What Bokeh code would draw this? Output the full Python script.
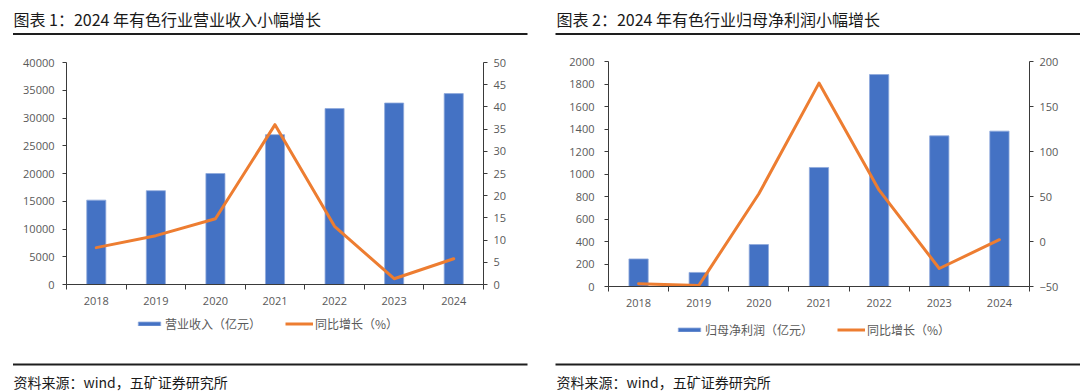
from bokeh.plotting import figure
from bokeh.models import (Range1d, LinearAxis, FixedTicker, SingleIntervalTicker, Label,
                          BoxAnnotation, Legend, LegendItem, ColumnDataSource)
from bokeh.layouts import row, column
from bokeh.embed import file_html
from bokeh.resources import INLINE

# ---------------- data ----------------
years = ["2018", "2019", "2020", "2021", "2022", "2023", "2024"]
revenue = [15200, 16900, 20000, 27000, 31700, 32700, 34400]          # 营业收入（亿元）
revenue_yoy = [8.3, 11.0, 14.8, 36.0, 13.1, 1.3, 5.8]               # 同比增长（%）
profit = [245, 125, 373, 1058, 1884, 1339, 1381]                     # 归母净利润（亿元）
profit_yoy = [-47, -49, 53, 176, 57, -30, 2]                         # 同比增长（%）

title1 = "图表 1：2024 年有色行业营业收入小幅增长"
title2 = "图表 2：2024 年有色行业归母净利润小幅增长"
source_text = "资料来源：wind，五矿证券研究所"
bar_label1 = "营业收入（亿元）"
bar_label2 = "归母净利润（亿元）"
line_label = "同比增长（%）"

BLUE = "#4472C4"
ORANGE = "#ED7D31"
GRAY = "#595959"
AXIS = "#3a3a3a"
RULE = "#1e1e1e"
CJK = "Noto Sans CJK SC"
NUM = "Open Sans"

W = 540
HEAD_H = 52
MAIN_H = 262
FOOT_H = 78
NAN = float("nan")


def blank(height):
    f = figure(width=W, height=height, output_backend="svg", toolbar_location=None,
               x_range=Range1d(0, W), y_range=Range1d(height, 0),
               min_border=0, min_border_left=0, min_border_right=0,
               min_border_top=0, min_border_bottom=0,
               x_axis_location=None, y_axis_location=None,
               outline_line_color=None, background_fill_color="white",
               border_fill_color="white", frame_align=False)
    f.xgrid.visible = False
    f.ygrid.visible = False
    return f


def header(title, tx, rule_x):
    h = blank(HEAD_H)
    h.add_layout(Label(x=tx, y=18, text=title, text_font=CJK, text_font_size="16px",
                       text_color="#1a1a1a", text_baseline="middle", text_align="left"))
    h.add_layout(BoxAnnotation(left=rule_x[0], right=rule_x[1], top=32.6, bottom=34.4,
                               fill_color=RULE, fill_alpha=1, line_color=None))
    return h


def footer(bar_label, tx, rule_x, legend_loc):
    f = blank(FOOT_H)
    # legend proxies (nothing visible is drawn for them in the plot area)
    r_bar = f.vbar(x=[NAN], top=[NAN], width=1, fill_color=BLUE, line_color="#8faadc",
                   line_width=0.8)
    r_line = f.line(x=[NAN, NAN], y=[NAN, NAN], line_color=ORANGE, line_width=3)
    legend = Legend(items=[LegendItem(label=bar_label, renderers=[r_bar]),
                           LegendItem(label=line_label, renderers=[r_line])],
                    orientation="horizontal", location=legend_loc,
                    glyph_width=28, glyph_height=5, label_height=5, label_width=10,
                    label_standoff=2, spacing=24, padding=0, margin=0,
                    label_text_font=CJK, label_text_font_size="12px",
                    label_text_color=GRAY, border_line_color=None,
                    background_fill_alpha=0)
    f.add_layout(legend, "center")
    f.add_layout(BoxAnnotation(left=rule_x[0], right=rule_x[1], top=49.1, bottom=50.9,
                               fill_color=RULE, fill_alpha=1, line_color=None))
    f.add_layout(Label(x=tx, y=67, text=source_text, text_font=CJK,
                       text_font_size="14px", text_color="#1a1a1a",
                       text_baseline="middle", text_align="left"))
    return f


def main_chart(bar_vals, line_vals, yl, yr, yl_step, yr_step, borders, left_standoff):
    bl, br, bt, bb = borders
    n = len(years)
    xs = [i + 0.5 for i in range(n)]
    src = ColumnDataSource(dict(x=xs, bar=bar_vals, line=line_vals))

    p = figure(width=W, height=MAIN_H, output_backend="svg", toolbar_location=None,
               x_range=Range1d(0, n), y_range=Range1d(*yl),
               min_border_left=bl, min_border_right=br, min_border_top=bt,
               min_border_bottom=bb, background_fill_color="white",
               border_fill_color="white", outline_line_color=None,
               y_axis_location=None, x_axis_location=None, frame_align=False)
    p.xgrid.visible = False
    p.ygrid.visible = False
    p.extra_y_ranges = {"right": Range1d(*yr)}

    p.vbar(x="x", top="bar", width=0.32, source=src, fill_color=BLUE,
           line_color="#8faadc", line_width=0.8)
    p.line(x="x", y="line", source=src, y_range_name="right", line_color=ORANGE,
           line_width=3, line_join="round", line_cap="round")

    # x axis: tick marks between categories, labels at category centres
    xa = LinearAxis(ticker=FixedTicker(ticks=xs, minor_ticks=list(range(n + 1))),
                    major_label_overrides={x: y for x, y in zip(xs, years)})
    xa.major_tick_out = 0
    xa.major_tick_in = 0
    xa.minor_tick_out = 5
    xa.minor_tick_in = 0
    xa.minor_tick_line_color = AXIS
    xa.axis_line_color = AXIS
    xa.major_label_text_font = NUM
    xa.major_label_text_font_size = "11px"
    xa.major_label_text_color = GRAY
    xa.major_label_standoff = 7
    p.add_layout(xa, "below")

    la = LinearAxis(ticker=SingleIntervalTicker(interval=yl_step, num_minor_ticks=0))
    ra = LinearAxis(y_range_name="right",
                    ticker=SingleIntervalTicker(interval=yr_step, num_minor_ticks=0))
    for ax, so in ((la, left_standoff), (ra, 6)):
        ax.major_tick_out = 4
        ax.major_tick_in = 0
        ax.minor_tick_out = 0
        ax.minor_tick_in = 0
        ax.axis_line_color = AXIS
        ax.major_tick_line_color = AXIS
        ax.major_label_text_font = NUM
        ax.major_label_text_font_size = "11px"
        ax.major_label_text_color = GRAY
        ax.major_label_standoff = so
    p.add_layout(la, "left")
    p.add_layout(ra, "right")
    return p


# chart 1 (page x 0..540)
h1 = header(title1, 13, (12.5, 527))
m1 = main_chart(revenue, revenue_yoy, (0, 40000), (0, 50), 5000, 5,
                borders=(66, 57, 10, 30), left_standoff=8)
f1 = footer(bar_label1, 13, (12.5, 527), (135, 60.5))

# chart 2 (page x 540..1080)
h2 = header(title2, 16, (15, 540))
m2 = main_chart(profit, profit_yoy, (0, 2000), (-50, 200), 200, 50,
                borders=(68, 51, 9, 28), left_standoff=10)
f2 = footer(bar_label2, 16, (15, 540), (135, 54.5))

layout = row(column(h1, m1, f1, spacing=0), column(h2, m2, f2, spacing=0), spacing=0)
open("out.html", "w").write(file_html(layout, INLINE))
